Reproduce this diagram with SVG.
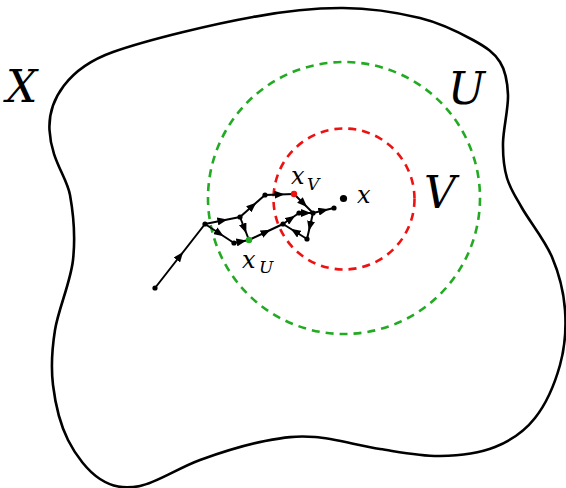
<svg xmlns="http://www.w3.org/2000/svg" width="566" height="488" viewBox="0 0 566 488">
<style>
.blob{fill:none;stroke:#000;stroke-width:2.6}
.cg{fill:none;stroke:#22aa22;stroke-width:2.6;stroke-dasharray:8 6}
.cr{fill:none;stroke:#ee1111;stroke-width:2.6;stroke-dasharray:8 6}
.e{fill:none;stroke:#000;stroke-width:2;marker-mid:url(#arr)}
.n{fill:#000}
text{font-family:"DejaVu Serif","Liberation Serif",serif;font-style:italic;fill:#000}
.big{font-size:44px}
.m{font-size:24px}
.s{font-size:17px}
</style>
<defs>
<marker id="arr" viewBox="0 0 10 8" refX="5" refY="4" markerWidth="10" markerHeight="8" markerUnits="userSpaceOnUse" orient="auto">
<path d="M0,0 L10,4 L0,8 Z" fill="#000"/>
</marker>
</defs>
<g id="X">
<path class="blob" d="M49.5,130 C48,100 68,68 113,52 C150,39 214,24 253,17 C291.8,9.7 315.2,7.8 343,8 C370.8,8.2 398.3,12.7 420,18 C441.7,23.3 459.7,32.7 473,40 C486.3,47.3 494.2,52.8 500,62 C505.8,71.2 507.5,81.5 508,95 C508.5,108.5 503.2,129.2 503,143 C502.8,156.8 503.8,167.2 507,178 C510.2,188.8 514.5,194.8 522,208 C529.5,221.2 544.8,240 552,257 C559.2,274 563.7,292 565,310 C566.3,328 565,347 560,365 C555,383 545.8,404.3 535,418 C524.2,431.7 510.8,440.7 495,447 C479.2,453.3 459.2,455.7 440,456 C420.8,456.3 400.8,452.2 380,449 C359.2,445.8 334.2,438.3 315,437 C295.8,435.7 284.2,437.2 265,441 C245.8,444.8 220.8,452.5 200,460 C179.2,467.5 156.7,482.8 140,486 C123.3,489.2 112,486.7 100,479 C88,471.3 75.8,455.7 68,440 C60.2,424.3 55.2,403.3 53,385 C50.8,366.7 51.7,350.8 55,330 C58.3,309.2 70.5,282.5 73,260 C75.5,237.5 73.3,213.3 70,195 C66.7,176.7 51,160 49.5,130 Z"/>
<text class="big" x="6" y="102">X</text>
</g>
<g id="U">
<circle class="cg" cx="344" cy="198" r="136"/>
<text class="big" x="448" y="104">U</text>
</g>
<g id="V">
<circle class="cr" cx="344" cy="199" r="70.5"/>
<text class="big" x="424" y="208">V</text>
</g>
<g id="connectors">
<path class="e" d="M155,288 L180,256 L205,224"/>
<path class="e" d="M205,224 L222.5,220.5 L240,217"/>
<path class="e" d="M240,217 L252.5,206 L265,195"/>
<path class="e" d="M265,195 L279.5,194.5 L294,194"/>
<path class="e" d="M294,194 L303.5,203.5 L313,213"/>
<path class="e" d="M313,213 L323.5,210.5 L334,208"/>
<path class="e" d="M205,224 L219.5,233.5 L234,243"/>
<path class="e" d="M234,243 L241.5,241.5 L249,240"/>
<path class="e" d="M240,217 L244.5,228.5 L249,240"/>
<path class="e" d="M249,240 L266,232 L283,224"/>
<path class="e" d="M283,224 L291,218.5 L299,213"/>
<path class="e" d="M299,213 L306,213 L313,213"/>
<path class="e" d="M313,213 L310,226 L307,239"/>
<path class="e" d="M307,239 L295,231.5 L283,224"/>
</g>
<g id="nodes">
<circle class="n" cx="155" cy="288" r="2.6"/>
<circle class="n" cx="205" cy="224" r="2.6"/>
<circle class="n" cx="240" cy="217" r="2.6"/>
<circle class="n" cx="265" cy="195" r="2.6"/>
<circle class="n" cx="313" cy="213" r="2.6"/>
<circle class="n" cx="334" cy="208" r="2.6"/>
<circle class="n" cx="234" cy="243" r="2.6"/>
<circle class="n" cx="283" cy="224" r="2.6"/>
<circle class="n" cx="299" cy="213" r="2.6"/>
<circle class="n" cx="307" cy="239" r="2.6"/>
</g>
<g id="xV">
<circle cx="294" cy="194" r="3.2" fill="#ee1111"/>
<text class="m" x="291" y="184">x</text>
<text class="s" x="307" y="190">V</text>
</g>
<g id="xU">
<circle cx="249" cy="240" r="3.2" fill="#22aa22"/>
<text class="m" x="242" y="268">x</text>
<text class="s" x="259" y="273">U</text>
</g>
<g id="x">
<circle class="n" cx="343.5" cy="198.5" r="3.6"/>
<text class="m" x="357" y="203">x</text>
</g>
</svg>
